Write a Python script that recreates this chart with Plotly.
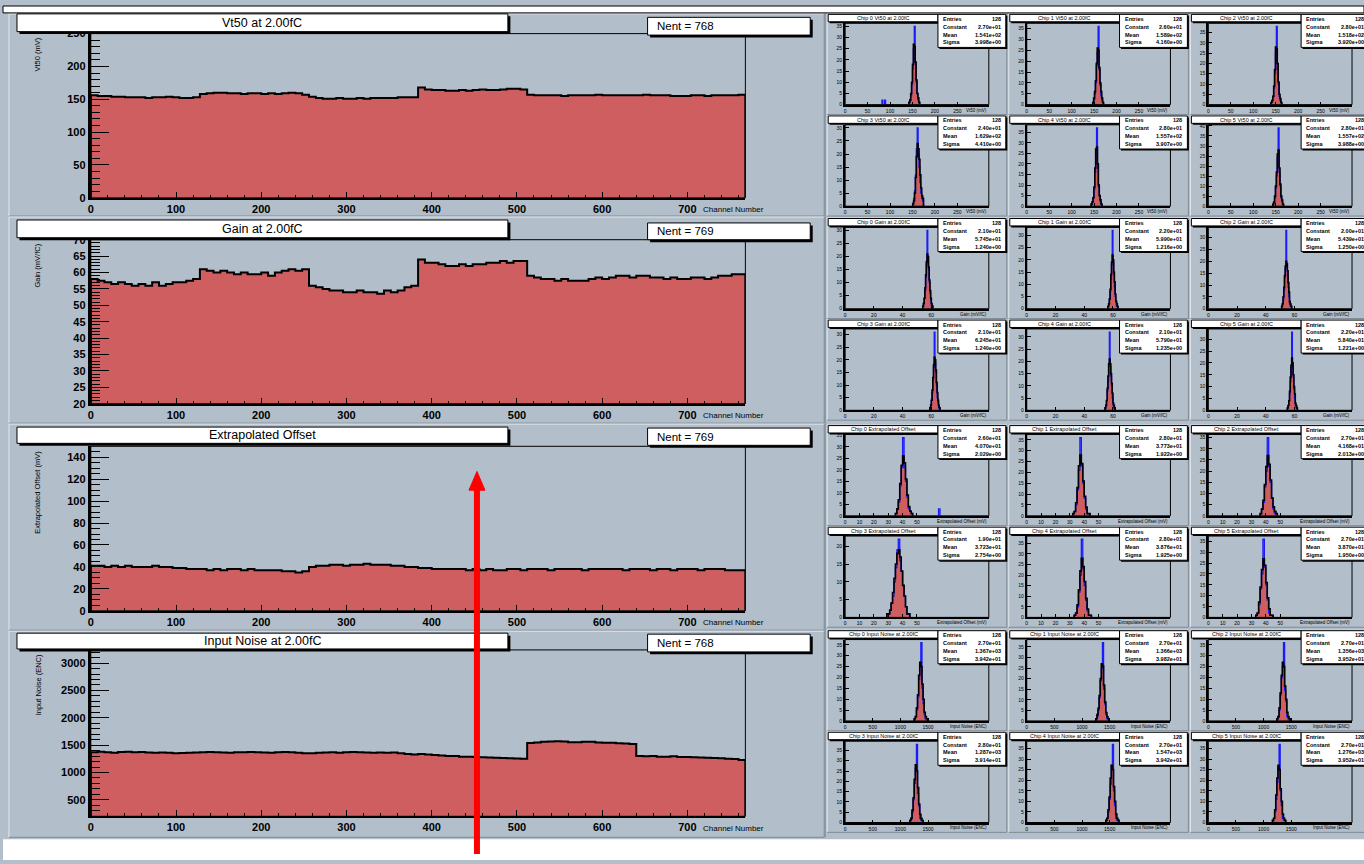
import plotly.graph_objects as go

W, H = 1364, 864

PAD_BG = "#b2bec9"
HIST_FILL = "#cf5e61"
BLUE = "#1a1aff"
FONT = "Liberation Sans"

# ---------------- per-channel summaries (8-channel bins, 6 chips x 128 channels) ----------------
channel_bin = 8

vt50 = [156, 155, 155, 154, 154, 153, 153, 153, 152, 153, 153, 154, 153, 152, 152, 153,
        158, 159, 160, 160, 159, 159, 158, 159, 159, 158, 159, 158, 159, 160, 159, 157,
        154, 152, 151, 151, 152, 151, 151, 152, 151, 152, 152, 152, 152, 153, 153, 153,
        168, 165, 164, 164, 163, 163, 164, 163, 164, 165, 164, 164, 165, 166, 166, 165,
        157, 156, 156, 156, 156, 155, 156, 156, 156, 156, 157, 156, 156, 156, 156, 156,
        156, 157, 156, 156, 156, 155, 155, 155, 156, 156, 155, 156, 156, 156, 156, 157]

gain = [58, 57.5, 57, 56.5, 57, 56.5, 56, 56.5, 56, 57, 56, 56.5, 57, 57, 57.5, 58,
        61, 60.5, 60, 60.5, 60, 59.5, 60, 59.5, 59.5, 60, 59, 60, 60.5, 61, 60.5, 61,
        56, 55.5, 55, 54.5, 54.5, 54, 54, 54.5, 54, 54, 53.5, 54.5, 54, 54.5, 55.5, 56,
        64, 63, 63, 62.5, 62, 62, 62.5, 62, 62.5, 62.5, 63, 63, 63.5, 63, 63.5, 63.5,
        59, 58.5, 58, 58, 57.5, 58, 57.5, 57.5, 57.5, 58, 58.5, 58, 58.5, 59, 59, 58.5,
        59, 59, 58.5, 58.5, 58, 58.5, 58, 58, 58.5, 58.5, 58, 58.5, 59, 59, 59.5, 59.5]

offset = [41, 41, 40, 41, 40, 41, 40, 40, 40, 41, 40, 40, 39, 39, 38, 38,
          38, 37, 38, 37, 38, 38, 37, 38, 37, 37, 37, 37, 36, 36, 35, 36,
          40, 41, 41, 42, 42, 41, 42, 42, 43, 42, 42, 42, 41, 41, 40, 40,
          39, 39, 38, 38, 38, 38, 38, 37, 38, 37, 38, 37, 37, 38, 38, 37,
          38, 38, 38, 37, 38, 38, 38, 38, 37, 38, 38, 38, 38, 38, 37, 38,
          38, 38, 37, 38, 38, 37, 38, 38, 38, 37, 38, 38, 38, 37, 37, 37]

noise = [1370, 1380, 1370, 1360, 1375, 1380, 1370, 1375, 1365, 1360, 1365, 1360, 1350, 1355, 1360, 1365,
         1370, 1375, 1370, 1365, 1360, 1370, 1370, 1375, 1370, 1365, 1360, 1370, 1375, 1370, 1360, 1350,
         1350, 1360, 1365, 1370, 1360, 1370, 1375, 1370, 1365, 1360, 1365, 1360, 1365, 1350, 1340, 1330,
         1340, 1330, 1320, 1310, 1300, 1300, 1290, 1290, 1285, 1280, 1275, 1270, 1265, 1260, 1255, 1250,
         1540, 1550, 1560, 1565, 1570, 1565, 1555, 1555, 1560, 1560, 1550, 1545, 1545, 1535, 1530, 1520,
         1300, 1295, 1300, 1290, 1290, 1295, 1285, 1285, 1280, 1275, 1270, 1265, 1260, 1250, 1245, 1230]

panel_values = [vt50, gain, offset, noise]
panel_titles = ["Vt50 at 2.00fC", "Gain at 2.00fC", "Extrapolated Offset", "Input Noise at 2.00fC"]
panel_ytitles = ["Vt50 (mV)", "Gain (mV/fC)", "Extrapolated Offset (mV)", "Input Noise (ENC)"]
panel_nent = [768, 769, 769, 768]
panel_yrange = [[0, 250], [20, 70], [0, 150], [200, 3240]]
panel_ymajor = [50, 5, 20, 500]
panel_yminor = [10, 1, 5, 100]
x_ticks = [0, 100, 200, 300, 400, 500, 600, 700]

# ---------------- per-chip distributions (counts per bin) ----------------
chip_titles = ["Vt50 at 2.00fC", "Gain at 2.00fC", "Extrapolated Offset", "Input Noise at 2.00fC"]
chip_xtitles = ["Vt50 (mV)", "Gain (mV/fC)", "Extrapolated Offset (mV)", "Input Noise (ENC)"]
chip_xrange = [[0, 320], [0, 100], [0, 100], [0, 2600]]
chip_xticks = [[0, 50, 100, 150, 200, 250], [0, 20, 40, 60], [0, 10, 20, 30, 40, 50],
               [0, 500, 1000, 1500]]
chip_binw = [2, 0.5, 1, 20]

vt50_start = [142, 147, 139.5, 150.5, 143.5, 143.5]
vt50_red = [[1, 2, 5, 10, 18, 27, 26, 19, 11, 5, 3, 1],
            [1, 3, 6, 11, 19, 26, 25, 17, 10, 6, 3, 1],
            [1, 2, 4, 9, 17, 28, 27, 20, 11, 5, 3, 1],
            [1, 2, 5, 11, 19, 24, 22, 18, 12, 7, 4, 3],
            [1, 2, 4, 9, 18, 27, 28, 20, 10, 5, 3, 1],
            [1, 2, 5, 10, 17, 26, 28, 19, 11, 5, 3, 1]]
vt50_blue = [[1, 2, 4, 9, 16, 25, 35, 18, 10, 5, 2, 1],
             [1, 2, 5, 10, 18, 24, 36, 16, 9, 4, 2, 1],
             [1, 2, 4, 8, 15, 26, 38, 17, 10, 4, 2, 1],
             [1, 3, 6, 12, 22, 30, 20, 15, 9, 5, 3, 2],
             [1, 2, 4, 8, 16, 25, 37, 18, 9, 5, 2, 1],
             [1, 2, 4, 9, 15, 24, 39, 17, 10, 4, 2, 1]]
vt50_stray = [[(82, 2), (88, 2)], [], [], [], [], []]

gain_start = [54, 56.5, 51, 59, 54.5, 55]
gain_red = [[1, 2, 4, 8, 13, 18, 21, 20, 16, 11, 7, 4, 2, 1],
            [1, 2, 4, 8, 14, 19, 22, 20, 15, 11, 6, 3, 2, 1],
            [1, 2, 5, 9, 14, 18, 20, 19, 16, 11, 7, 3, 2, 1],
            [1, 2, 4, 8, 13, 18, 21, 20, 16, 11, 7, 4, 2, 1],
            [1, 2, 4, 9, 14, 19, 21, 19, 15, 11, 7, 3, 2, 1],
            [1, 2, 4, 8, 14, 19, 22, 20, 15, 10, 7, 3, 2, 1]]
gain_blue = [[1, 2, 4, 7, 12, 17, 30, 19, 15, 10, 6, 3, 1, 1],
             [1, 2, 4, 7, 12, 18, 32, 19, 14, 9, 5, 3, 1, 1],
             [1, 2, 4, 8, 13, 17, 33, 18, 14, 9, 5, 2, 1, 1],
             [1, 2, 4, 7, 12, 17, 31, 19, 15, 10, 5, 3, 1, 1],
             [1, 2, 4, 8, 12, 18, 32, 18, 14, 10, 5, 2, 1, 1],
             [1, 2, 4, 7, 12, 18, 33, 19, 14, 9, 5, 2, 1, 1]]
gain_stray = [[], [], [], [], [], []]

offset_start = [35, 32, 36, 29, 33, 33]
offset_red = [[1, 3, 7, 14, 22, 26, 23, 16, 9, 4, 2, 1],
              [1, 2, 6, 13, 23, 28, 24, 16, 9, 4, 1, 1],
              [1, 3, 7, 14, 22, 27, 23, 16, 8, 4, 2, 1],
              [1, 1, 2, 4, 7, 11, 15, 18, 19, 17, 13, 9, 6, 3, 1, 1],
              [1, 2, 6, 13, 22, 28, 24, 17, 9, 4, 1, 1],
              [1, 2, 7, 14, 22, 27, 24, 16, 9, 4, 1, 1]]
offset_blue = [[1, 3, 6, 13, 21, 34, 21, 15, 8, 3, 2, 1],
               [1, 2, 5, 12, 21, 36, 23, 15, 8, 3, 1, 1],
               [1, 3, 6, 13, 20, 35, 22, 15, 8, 3, 1, 1],
               [1, 1, 2, 4, 6, 10, 14, 19, 22, 16, 13, 9, 6, 3, 1, 1],
               [1, 2, 5, 12, 20, 37, 23, 15, 8, 3, 1, 1],
               [1, 2, 6, 13, 20, 36, 23, 15, 8, 2, 1, 1]]
offset_stray = [[(65, 3)], [], [], [], [], []]

noise_start = [1250, 1250, 1240, 1170, 1430, 1160]
noise_red = [[1, 2, 6, 12, 21, 27, 25, 17, 10, 4, 2, 1],
             [1, 3, 6, 12, 20, 27, 26, 17, 9, 4, 2, 1],
             [1, 2, 6, 13, 21, 27, 25, 16, 10, 4, 2, 1],
             [1, 2, 6, 12, 21, 28, 25, 17, 9, 4, 2, 1],
             [1, 2, 6, 12, 21, 27, 25, 17, 10, 4, 2, 1],
             [1, 2, 6, 13, 21, 27, 25, 16, 10, 4, 2, 1]]
noise_blue = [[1, 2, 5, 11, 19, 26, 36, 15, 8, 3, 1, 1],
              [1, 2, 5, 11, 19, 25, 37, 15, 8, 3, 1, 1],
              [1, 2, 5, 12, 20, 25, 36, 14, 9, 2, 1, 1],
              [1, 2, 5, 11, 19, 26, 38, 14, 8, 2, 1, 1],
              [1, 2, 5, 11, 18, 27, 37, 15, 8, 2, 1, 1],
              [1, 2, 5, 11, 19, 26, 37, 15, 8, 2, 1, 1]]
noise_stray = [[], [], [], [], [], []]

chip_start = [vt50_start, gain_start, offset_start, noise_start]
chip_red = [vt50_red, gain_red, offset_red, noise_red]
chip_blue = [vt50_blue, gain_blue, offset_blue, noise_blue]
chip_stray = [vt50_stray, gain_stray, offset_stray, noise_stray]

# ---------------- geometry (canvas pixels) ----------------
big_left, big_right = 88, 744
big_top = [28, 237, 446.5, 653]
big_bottom = [194.5, 403.3, 613.3, 821.7]
title_box = [(14, 8, 506, 26), (14, 217, 506, 235), (14, 427, 506, 443.5), (14, 636, 506, 652)]
nent_box = [(646, 11.5, 809, 29.5), (646, 220, 809, 237), (646, 428, 809, 445.5), (646, 637, 809, 655)]
left_pads = [(6, 8, 823, 213), (6, 214, 823, 423), (6, 424, 823, 633), (6, 634, 823, 843)]

col_left = [826, 1008, 1190]
row_top = [8, 111, 215, 318, 425, 528, 633, 736]
pad_w, pad_h = 181, 103


def px(x):
    return x / W


def py(y):
    return 1 - y / H


shapes = []
annotations = []


def rect(x0, y0, x1, y1, fill=None, line="black", lw=1, layer="above"):
    shapes.append(dict(type="rect", xref="paper", yref="paper",
                       x0=px(x0), x1=px(x1), y0=py(y1), y1=py(y0),
                       fillcolor=fill if fill else "rgba(0,0,0,0)",
                       line=dict(color=line, width=lw), layer=layer))


def hline(x0, x1, y, color, lw=1, layer="below"):
    shapes.append(dict(type="line", xref="paper", yref="paper",
                       x0=px(x0), x1=px(x1), y0=py(y), y1=py(y),
                       line=dict(color=color, width=lw), layer=layer))


def vline(x, y0, y1, color, lw=1, layer="below"):
    shapes.append(dict(type="line", xref="paper", yref="paper",
                       x0=px(x), x1=px(x), y0=py(y0), y1=py(y1),
                       line=dict(color=color, width=lw), layer=layer))


def pave(x0, y0, x1, y1, shadow=2.5):
    # white box with a dark drop shadow
    rect(x0 + shadow, y0 + shadow, x1 + shadow, y1 + shadow, fill="black", line="black", lw=0)
    rect(x0, y0, x1, y1, fill="white", line="black", lw=1)


def text(x, y, s, size, anchor="left", valign="middle", angle=0, bold=False, color="black"):
    annotations.append(dict(xref="paper", yref="paper", x=px(x), y=py(y), text=s,
                            showarrow=False, xanchor=anchor, yanchor=valign,
                            textangle=angle,
                            font=dict(family=FONT, size=size, color=color,
                                      weight="bold" if bold else "normal")))


def bevel(x0, y0, x1, y1):
    hline(x0, x1, y0, "#e4e9ee", 1)
    vline(x0, y0, y1, "#e4e9ee", 1)
    hline(x0, x1, y1, "#7f8a94", 1)
    vline(x1, y0, y1, "#7f8a94", 1)


def step_path(start, bw, counts):
    n = len(counts)
    xs = [start] + [start + i * bw for i in range(n)] + [start + n * bw]
    ys = [0] + list(counts) + [0]
    return xs, ys


fig = go.Figure()
layout_axes = {}
axis_id = 0

# ---------------- channel-by-channel panels ----------------
for k in range(4):
    axis_id += 1
    xa = "x" if axis_id == 1 else f"x{axis_id}"
    ya = "y" if axis_id == 1 else f"y{axis_id}"
    vals = panel_values[k]
    xs, ys = step_path(0, channel_bin, vals)
    fig.add_trace(go.Scatter(x=xs, y=ys, xaxis=xa, yaxis=ya, mode="lines",
                             line=dict(shape="hv", color="black", width=2),
                             fill="tozeroy", fillcolor=HIST_FILL, hoverinfo="skip",
                             showlegend=False))
    layout_axes[f"xaxis{'' if axis_id == 1 else axis_id}"] = dict(
        domain=[px(big_left), px(big_right)], range=[0, 768], anchor=ya,
        showgrid=False, zeroline=False, showline=True, linecolor="black", linewidth=2,
        tickmode="array", tickvals=x_ticks, ticks="inside", ticklen=6, tickcolor="black",
        minor=dict(ticks="inside", ticklen=3, dtick=20, tick0=0, tickcolor="black"),
        tickfont=dict(family=FONT, size=11, color="black", weight="bold"))
    layout_axes[f"yaxis{'' if axis_id == 1 else axis_id}"] = dict(
        domain=[py(big_bottom[k]), py(big_top[k])], range=panel_yrange[k], anchor=xa,
        showgrid=False, zeroline=False, showline=True, linecolor="black", linewidth=3,
        tick0=0, dtick=panel_ymajor[k], ticks="inside", ticklen=18, tickcolor="black",
        minor=dict(ticks="inside", ticklen=9, dtick=panel_yminor[k], tick0=0, tickcolor="black"),
        tickfont=dict(family=FONT, size=11, color="black", weight="bold"))

    # pad, frame and boxes
    x0, y0, x1, y1 = left_pads[k]
    bevel(x0, y0, x1, y1)
    rect(big_left, big_top[k], big_right, big_bottom[k], line="black", lw=1)
    tx0, ty0, tx1, ty1 = title_box[k]
    pave(tx0, ty0, tx1, ty1)
    text((tx0 + tx1) / 2, (ty0 + ty1) / 2, panel_titles[k], 12.5, anchor="center")
    nx0, ny0, nx1, ny1 = nent_box[k]
    pave(nx0, ny0, nx1, ny1)
    text(nx0 + 7, (ny0 + ny1) / 2, f"Nent = {panel_nent[k]}", 11.5)
    text(35, big_top[k] + 2, panel_ytitles[k], 7.5, anchor="center", valign="top", angle=-90)
    text(700, big_bottom[k] + 12, "Channel Number", 8, anchor="left")

# ---------------- per-chip distributions ----------------
for r in range(8):
    q = r // 2
    for c in range(3):
        chip = (r % 2) * 3 + c
        axis_id += 1
        xa, ya = f"x{axis_id}", f"y{axis_id}"
        L, T = col_left[c], row_top[r]
        fx0, fx1 = L + 18, L + 162
        fy0, fy1 = T + 9.5, T + 92
        bw = chip_binw[q]
        red = chip_red[q][chip]
        blue = chip_blue[q][chip]
        start = chip_start[q][chip]

        xs, ys = step_path(start, bw, red)
        fig.add_trace(go.Scatter(x=xs, y=ys, xaxis=xa, yaxis=ya, mode="lines",
                                 line=dict(shape="hv", color=HIST_FILL, width=0.5),
                                 fill="tozeroy", fillcolor=HIST_FILL, hoverinfo="skip",
                                 showlegend=False))
        bx, by = step_path(start, bw, blue)
        fig.add_trace(go.Scatter(x=bx, y=by, xaxis=xa, yaxis=ya, mode="lines",
                                 line=dict(shape="hv", color=BLUE, width=1.3),
                                 hoverinfo="skip", showlegend=False))
        for (sx, sc) in chip_stray[q][chip]:
            sxs, sys_ = step_path(sx, bw, [sc])
            fig.add_trace(go.Scatter(x=sxs, y=sys_, xaxis=xa, yaxis=ya, mode="lines",
                                     line=dict(shape="hv", color=BLUE, width=1.3),
                                     hoverinfo="skip", showlegend=False))
        fig.add_trace(go.Scatter(x=xs, y=ys, xaxis=xa, yaxis=ya, mode="lines",
                                 line=dict(shape="hv", color="black", width=1.6),
                                 hoverinfo="skip", showlegend=False))

        ymax = max(blue) * 1.04
        layout_axes[f"xaxis{axis_id}"] = dict(
            domain=[px(fx0), px(fx1)], range=chip_xrange[q], anchor=ya,
            showgrid=False, zeroline=False, showline=True, linecolor="black", linewidth=2,
            tickmode="array", tickvals=chip_xticks[q], ticks="inside", ticklen=3,
            tickcolor="black", tickfont=dict(family=FONT, size=5, color="black"))
        layout_axes[f"yaxis{axis_id}"] = dict(
            domain=[py(fy1), py(fy0)], range=[0, ymax], anchor=xa,
            showgrid=False, zeroline=False, showline=True, linecolor="black", linewidth=2,
            nticks=10, ticks="inside", ticklen=4, tickcolor="black",
            tickfont=dict(family=FONT, size=5, color="black"))

        bevel(L, T, L + pad_w - 1, T + pad_h - 1)
        rect(fx0, fy0, fx1, fy1, line="black", lw=1)

        # title and fit statistics
        pave(L + 1, T + 0.5, L + 111, T + 8, shadow=1.5)
        text(L + 56, T + 4.3, f"Chip {chip} {chip_titles[q]}", 5.5, anchor="center")
        n = sum(red)
        mean = sum((start + (i + 0.5) * bw) * v for i, v in enumerate(red)) / n
        var = sum(((start + (i + 0.5) * bw) - mean) ** 2 * v for i, v in enumerate(red)) / n
        sigma = var ** 0.5
        pave(L + 111, T + 0.5, L + 179, T + 34, shadow=1.5)
        stats = [("Entries", f"{n}"), ("Constant", f"{max(red):.2e}"),
                 ("Mean", f"{mean:.3e}"), ("Sigma", f"{sigma:.3e}")]
        for i, (name, val) in enumerate(stats):
            yy = T + 5 + i * 8
            text(L + 114, yy, name, 5.5, bold=True)
            text(L + 176, yy, val, 5.5, anchor="right", bold=True)
        text(fx1, fy1 + 5.5, chip_xtitles[q], 4.5, anchor="right")

# right-hand column separator and canvas edges
vline(824, 8, 843, "#7f8a94", 1)
rect(0, 0, W, 7, fill="white", line="black", lw=1)
rect(0, 845, W, H + 2, fill="white", line="white", lw=0)

# red marker arrow
shapes.append(dict(type="line", xref="paper", yref="paper",
                   x0=px(475), x1=px(475), y0=py(860), y1=py(488),
                   line=dict(color="#ff0000", width=6), layer="above"))
shapes.append(dict(type="path", xref="paper", yref="paper",
                   path=f"M {px(475)},{py(472)} L {px(467)},{py(491)} L {px(483)},{py(491)} Z",
                   fillcolor="#ff0000", line=dict(color="#ff0000", width=1), layer="above"))

fig.update_layout(width=W, height=H, margin=dict(l=0, r=0, t=0, b=0),
                  paper_bgcolor=PAD_BG, plot_bgcolor=PAD_BG,
                  showlegend=False, shapes=shapes, annotations=annotations,
                  **layout_axes)

fig.write_html("out.html", include_plotlyjs=True, config={"displayModeBar": False})
